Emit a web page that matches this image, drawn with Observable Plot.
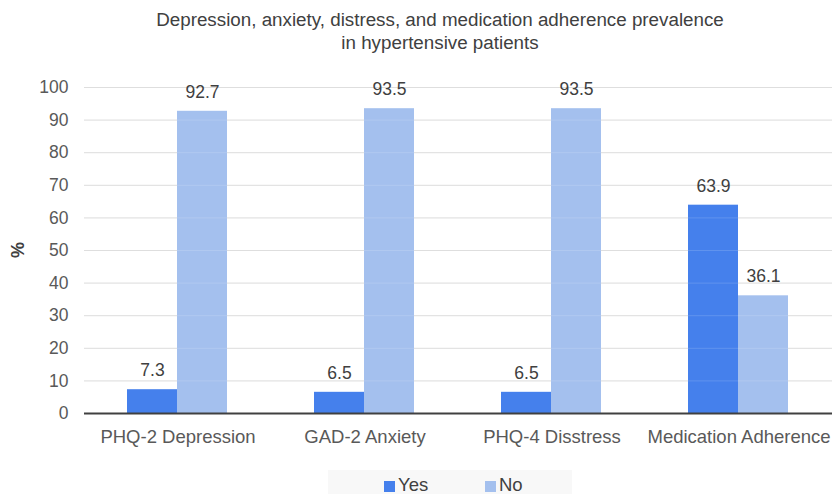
<!DOCTYPE html>
<html><head><meta charset="utf-8">
<script src="https://cdn.jsdelivr.net/npm/d3@7"></script>
<script src="https://cdn.jsdelivr.net/npm/@observablehq/plot@0.6"></script>
<style>
body{margin:0;background:#fff;font-family:"Liberation Sans",Arial,sans-serif;}
#wrap{width:833px;height:494px;position:relative;overflow:hidden;}
#title{position:absolute;top:8px;left:0;width:880px;text-align:center;font-size:18.8px;line-height:23px;color:#404040;}
#chart{position:absolute;top:62px;left:0;}
#ylab{position:absolute;left:8px;top:240px;width:20px;height:20px;line-height:20px;text-align:center;font-size:18px;font-weight:bold;color:#404040;transform:rotate(-90deg);}
#legend{position:absolute;top:470px;left:328px;width:244px;height:24px;background:#f8f8f8;font-size:18.5px;color:#404040;}
.sw{position:absolute;top:11px;width:11px;height:11px;}
.lt{position:absolute;top:6px;line-height:18.5px;}
</style></head>
<body><div id="wrap">
<div id="title">Depression, anxiety, distress, and medication adherence prevalence<br>in hypertensive patients</div>
<div id="chart"></div>
<div id="ylab">%</div>
<div id="legend"></div>
</div>
<script>
const categories = ["PHQ-2 Depression","GAD-2 Anxiety","PHQ-4 Disstress","Medication Adherence"];
const series = ["Yes","No"];
const yesValues = [7.3, 6.5, 6.5, 63.9];
const noValues = [92.7, 93.5, 93.5, 36.1];
const yTicks = [0,10,20,30,40,50,60,70,80,90,100];
const colors = ["#4580EC","#A4C0EE"];

const data = [];
categories.forEach((c,i)=>{
  data.push({cat:c, s:"Yes", v:yesValues[i]});
  data.push({cat:c, s:"No", v:noValues[i]});
});

const chart = Plot.plot({
  width: 833,
  height: 405,
  marginLeft: 83,
  marginRight: 0,
  marginTop: 25,
  marginBottom: 54,
  style: {fontFamily: '"Liberation Sans", Arial, sans-serif', fontSize: "17.5px", color: "#404040", background: "transparent"},
  fx: {domain: categories, paddingInner: 0, paddingOuter: 0, label: null, tickSize: 0, tickPadding: 16},
  x: {domain: series, paddingInner: 0, paddingOuter: 0.85, axis: null},
  y: {domain: [0,100], ticks: yTicks, tickSize: 0, tickPadding: 16, label: null},
  color: {domain: series, range: colors},
  marks: [
    Plot.ruleY(yTicks.filter(d=>d>0), {stroke: "#d9d9d9", strokeWidth: 1}),
    Plot.barY(data, {fx: "cat", x: "s", y: "v", fill: "s", dx: -1}),
    Plot.ruleY(yTicks.filter(d=>d>0), {stroke: "#ffffff", strokeOpacity: 0.15, strokeWidth: 1}),
    Plot.text(data, {fx: "cat", x: "s", y: "v", text: d=>d.v.toFixed(1), dy: -19, dx: -1, fill: "#404040", fontSize: 17.5}),
    Plot.ruleY([0], {stroke: "#404040", strokeWidth: 2})
  ]
});
chart.querySelectorAll('[aria-label="y-axis tick label"] text').forEach(t=>t.setAttribute("fill","#595959"));
chart.querySelectorAll('[aria-label="fx-axis tick label"] text').forEach(t=>{t.setAttribute("fill","#595959"); t.setAttribute("font-size","18.5");});
document.getElementById("chart").appendChild(chart);

const lg = document.getElementById("legend");
const pos = [[56,70],[157,171]];
series.forEach((s,i)=>{
  const sw = document.createElement("div");
  sw.className="sw"; sw.style.left = pos[i][0]+"px"; sw.style.background = colors[i];
  const t = document.createElement("div");
  t.className="lt"; t.style.left = pos[i][1]+"px"; t.textContent = s;
  lg.appendChild(sw); lg.appendChild(t);
});
</script>
</body></html>
